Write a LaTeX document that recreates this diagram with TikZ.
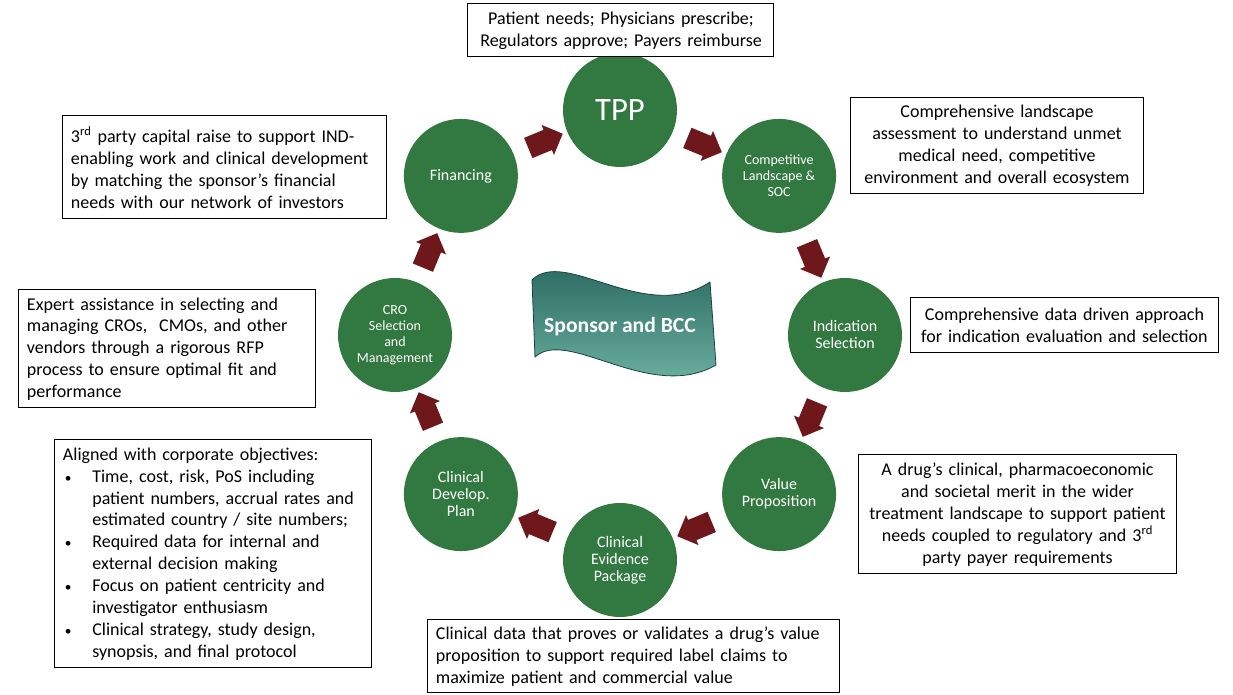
\documentclass[tikz,border=0pt]{standalone}
\usepackage{fontspec}
\setmainfont{Carlito}
\usetikzlibrary{positioning, shapes.arrows, calc}

\definecolor{stagegreen}{RGB}{49,121,64}
\definecolor{arrowred}{RGB}{110,24,28}
\definecolor{bannerdark}{RGB}{34,96,88}
\definecolor{bannermid}{RGB}{50,126,114}
\definecolor{bannerlight}{RGB}{118,188,172}

\newcommand{\bitem}{\makebox[22pt][l]{\hspace{1.5pt}{\fontsize{10}{10}\selectfont\textbullet}}}
\newcommand{\bskip}{\hspace*{22pt}}

\begin{document}
\begin{tikzpicture}[
        x=0.75pt, y=0.75pt,
        stage/.style={circle, fill=stagegreen, text=white, minimum size=85.5pt, inner sep=0pt, align=center},
        note/.style={draw=black, line width=0.75pt, fill=white, inner xsep=6pt, inner ysep=0pt, font=\fontsize{13.5}{16.4}\selectfont},
        turn/.style={single arrow, fill=arrowred, minimum height=28pt, inner xsep=0pt, inner ysep=8pt, single arrow head extend=4pt},
    ]
        \useasboundingbox (-620,335) rectangle (613,-360);

        % Draw the stages of the cycle
        \foreach \name / \ang / \fs / \ls / \txt in {
                tpp/90/24.5/26/TPP,
                comp/45/10.5/12/{Competitive\\Landscape \&\\SOC},
                ind/0/12/12.75/{Indication\\Selection},
                value/-45/12/12.75/{Value\\Proposition},
                evid/-90/12/12.75/{Clinical\\Evidence\\Package},
                plan/-135/12/12.75/{Clinical\\Develop.\\Plan},
                cro/180/10.5/12/{CRO\\Selection\\and\\Management},
                fin/135/12/12.75/Financing}
            \node[stage, font=\fontsize{\fs}{\ls}\selectfont] (\name) at (\ang:225) {\txt};

        % Draw the arrows between consecutive stages
        \foreach \source / \dest / \ang in {fin/tpp/112.5, tpp/comp/67.5, comp/ind/22.5, ind/value/-22.5,
                value/evid/-67.5, evid/plan/-112.5, plan/cro/-157.5, cro/fin/157.5}
            \node[turn, rotate=\ang-90] (arrow-\source) at ($(\source)!0.5!(\dest)$) {};

        % Central banner
        \shade[top color=bannerdark, middle color=bannermid, bottom color=bannerlight, draw=bannerdark!70!black, line width=0.6pt]
            (-88,55) .. controls (-55,88) and (25,10) .. (90,53)
            -- (96,-30) .. controls (30,-68) and (-52,8) .. (-85,-22) -- cycle;
        \node[text=white, font=\fontsize{16.2}{18}\selectfont\bfseries] (banner) at (0,8) {Sponsor and BCC};

        % Description boxes
        \node[note, text width=217.5pt, minimum height=39.75pt, align=center] (tpp-note) at (1,304.5)
            {Patient needs; Physicians prescribe;\\Regulators approve; Payers reimburse};
        \node[note, text width=207pt, minimum height=72pt, align=center] (comp-note) at (377,189)
            {Comprehensive landscape\\assessment to understand unmet\\medical need, competitive\\environment and overall ecosystem};
        \node[note, text width=218.25pt, minimum height=41.25pt, align=center] (ind-note) at (444.5,9.5)
            {Comprehensive data driven approach\\for indication evaluation and selection};
        \node[note, text width=225.75pt, minimum height=89.25pt, align=center] (value-note) at (397.5,-179.5)
            {A drug’s clinical, pharmacoeconomic\\and societal merit in the wider\\treatment landscape to support patient\\needs coupled to regulatory and 3\textsuperscript{rd}\\party payer requirements};
        \node[note, text width=297pt, minimum height=54.75pt, align=left] (evid-note) at (14,-321.5)
            {Clinical data that proves or validates a drug’s value\\proposition to support required label claims to\\maximize patient and commercial value};
        \node[note, text width=225.75pt, minimum height=171pt, align=left] (plan-note) at (-406.5,-219)
            {Aligned with corporate objectives:\\
             \bitem Time, cost, risk, PoS including\\
             \bskip patient numbers, accrual rates and\\
             \bskip estimated country / site numbers;\\
             \bitem Required data for internal and\\
             \bskip external decision making\\
             \bitem Focus on patient centricity and\\
             \bskip investigator enthusiasm\\
             \bitem Clinical strategy, study design,\\
             \bskip synopsis, and final protocol};
        \node[note, text width=210.75pt, minimum height=88.5pt, align=left] (cro-note) at (-452.5,-14)
            {Expert assistance in selecting and\\managing CROs,~ CMOs, and other\\vendors through a rigorous RFP\\process to ensure optimal fit and\\performance};
        \node[note, text width=231pt, minimum height=77.25pt, align=left] (fin-note) at (-395,167.5)
            {3\textsuperscript{rd} party capital raise to support IND-\\enabling work and clinical development\\by matching the sponsor’s financial\\needs with our network of investors};
\end{tikzpicture}
\end{document}
